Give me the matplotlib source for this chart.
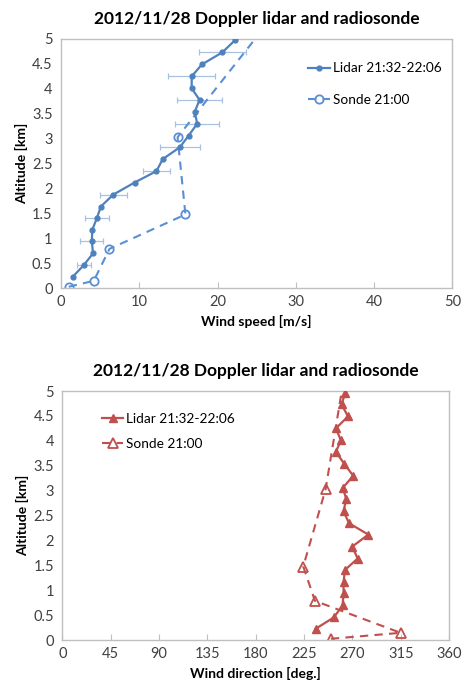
import numpy as np
import matplotlib
matplotlib.use("Agg")
import matplotlib.pyplot as plt

plt.rcParams['font.family'] = ['Lato', 'DejaVu Sans']

# lidar range gates (km)
lidar_alt = [0.23, 0.46, 0.70, 0.94, 1.17, 1.41, 1.64, 1.88, 2.12, 2.35, 2.59,
             2.83, 3.06, 3.30, 3.54, 3.78, 4.01, 4.25, 4.49, 4.73, 4.97]
lidar_speed = [1.5, 2.9, 4.1, 3.95, 4.0, 4.6, 5.1, 6.7, 9.4, 12.2, 13.0,
               15.2, 16.3, 17.4, 17.1, 17.7, 16.7, 16.7, 18.0, 20.6, 22.2]
# error bars only on every other gate (0 = none)
lidar_speed_err = [0, 0.9, 0, 1.45, 0, 1.55, 0, 1.7, 0, 1.75, 0,
                   2.6, 0, 2.8, 0, 2.9, 0, 3.0, 0, 3.0, 0]
lidar_dir = [235.7, 252.7, 260.8, 261.7, 261.7, 263.0, 274.8, 269.8, 284.7, 266.7, 261.7,
             264.2, 261.1, 270.7, 262.3, 254.6, 259.2, 254.6, 265.8, 259.9, 263.3]

sonde_alt = [0.03, 0.15, 0.79, 1.48, 3.03, 5.6]
sonde_speed = [1.0, 4.2, 6.2, 15.9, 14.9, 27.8]
sonde_dir = [249.9, 314.8, 235.1, 224.2, 245.0, 264.6]

title = "2012/11/28 Doppler lidar and radiosonde"
blue = '#4F81BD'
red = '#C0504D'
frame = '#BFBFBF'


def style_axes(ax):
    for s in ax.spines.values():
        s.set_color(frame)
        s.set_linewidth(1.0)
    ax.tick_params(axis='x', direction='in', length=4, color=frame,
                   labelsize=10.5, labelcolor='#404040', pad=5, top=False)
    ax.tick_params(axis='y', direction='out', length=0, color=frame,
                   labelsize=10.5, labelcolor='#404040', pad=6, right=False)
    ax.set_ylim(0, 5)
    ax.set_yticks(np.arange(0, 5.01, 0.5))
    ax.set_yticklabels(['0', '0.5', '1', '1.5', '2', '2.5', '3', '3.5', '4', '4.5', '5'])
    ax.set_ylabel("Altitude [km]", fontsize=10, fontweight='bold', labelpad=3)
    ax.set_title(title, fontsize=12.5, fontweight='bold', pad=11)


fig = plt.figure(figsize=(4.65, 6.89), dpi=100)

# --- wind speed ---
ax1 = fig.add_axes([0.131, 0.5816, 0.842, 0.3618])
alt = np.array(lidar_alt)
spd = np.array(lidar_speed)
err = np.array(lidar_speed_err)
m = err > 0
ax1.errorbar(spd[m], alt[m], xerr=err[m], fmt='none', ecolor='#A9C1E0',
             elinewidth=0.9, capsize=2, capthick=0.9, zorder=1)
ax1.plot(lidar_speed, lidar_alt, '-o', color=blue, lw=1.6, ms=3.5,
         label="Lidar 21:32-22:06", zorder=3)
ax1.plot(sonde_speed, sonde_alt, '--o', color='#5A8FD6', lw=1.5, ms=6,
         mfc='none', mew=1.3, dashes=(4, 3), label="Sonde 21:00", zorder=2)
ax1.set_xlim(0, 50)
ax1.set_xticks(range(0, 51, 10))
style_axes(ax1)
ax1.set_xlabel("Wind speed [m/s]", fontsize=10, fontweight='bold', labelpad=4)
ax1.legend(loc='upper left', bbox_to_anchor=(0.60, 0.955), frameon=False,
           fontsize=9.8, handlelength=1.6, handletextpad=0.2, labelspacing=1.45,
           numpoints=1)

# --- wind direction ---
ax2 = fig.add_axes([0.134, 0.0707, 0.832, 0.3618])
ax2.plot(lidar_dir, lidar_alt, '-^', color=red, lw=1.6, ms=5.5,
         label="Lidar 21:32-22:06", zorder=3)
ax2.plot(sonde_dir, sonde_alt, '--^', color=red, lw=1.5, ms=7,
         mfc='none', mew=1.3, dashes=(4, 3), label="Sonde 21:00", zorder=2)
ax2.set_xlim(0, 360)
ax2.set_xticks(range(0, 361, 45))
style_axes(ax2)
ax2.set_xlabel("Wind direction [deg.]", fontsize=10, fontweight='bold', labelpad=4)
ax2.legend(loc='upper left', bbox_to_anchor=(0.07, 0.96), frameon=False,
           fontsize=9.8, handlelength=1.6, handletextpad=0.2, labelspacing=0.95,
           numpoints=1)

fig.savefig("out.png", dpi=100)
